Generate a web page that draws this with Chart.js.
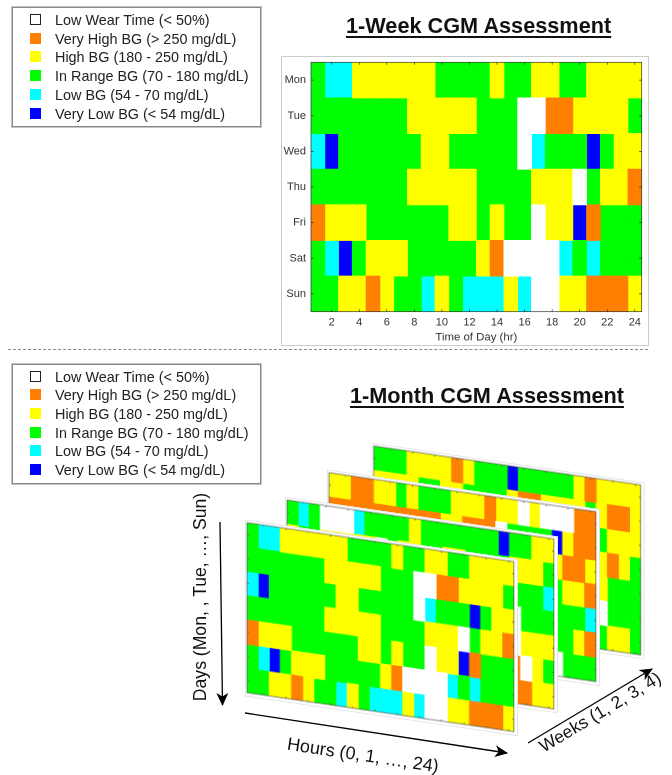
<!DOCTYPE html>
<html>
<head>
<meta charset="utf-8">
<title>CGM Assessment</title>
<script src="https://cdn.jsdelivr.net/npm/chart.js@4"></script>
<style>
  html, body { margin: 0; padding: 0; background: #fff; }
  #page { position: relative; width: 672px; height: 775px; overflow: hidden; font-family: "Liberation Sans", Arial, sans-serif; color: #222; filter: blur(0.35px); }
  #page canvas { position: absolute; background: #fff; }
  .title { position: absolute; font-weight: bold; font-size: 21.7px; line-height: 26px; text-decoration: underline; text-decoration-thickness: 2px; text-underline-offset: 3px; white-space: nowrap; color: #111; }
  .legend { position: absolute; left: 12px; width: 247px; height: 118px; border: 1px solid #888; box-shadow: 0 0 0 1px #c4c4c4; background: #fff; }
  .legend div { position: absolute; left: 42px; font-size: 14.4px; line-height: 18px; white-space: nowrap; }
  .legend span { position: absolute; left: -25px; top: 3px; width: 11px; height: 11px; box-sizing: border-box; }
  #sep { position: absolute; left: 8px; top: 349px; width: 640px; border-top: 1px dashed #888; }
  #arrows { position: absolute; left: 0; top: 0; }
  .axisText { position: absolute; font-size: 17.6px; line-height: 20px; white-space: nowrap; color: #111; transform-origin: center center; }
  #weekFrame { position: absolute; left: 282px; top: 57px; width: 366px; height: 288px; box-sizing: border-box; box-shadow: 0 0 0 1px #ccc; }
</style>
</head>
<body>
<div id="page">
  <div class="title" style="left:346px; top:13px;">1-Week CGM Assessment</div>
  <div class="title" style="left:350px; top:383px;">1-Month CGM Assessment</div>
  <div class="legend" id="legendWeek" style="top:7px;"></div>
  <div class="legend" id="legendMonth" style="top:363.5px;"></div>
  <div id="sep"></div>
  <div id="weekFrame"></div>
  <canvas id="weekChart" style="left:282px; top:57px;" width="366" height="288"></canvas>
  <canvas id="month4"></canvas>
  <canvas id="month3"></canvas>
  <canvas id="month2"></canvas>
  <canvas id="month1"></canvas>
  <svg id="arrows" width="672" height="775">
    <defs>
      <marker id="head" markerWidth="14" markerHeight="14" refX="12" refY="6" orient="auto" markerUnits="userSpaceOnUse">
        <path d="M0,0 L13,6 L0,12 L3.5,6 Z" fill="#000"></path>
      </marker>
    </defs>
    <line x1="220" y1="522" x2="222.5" y2="705" stroke="#000" stroke-width="1.3" marker-end="url(#head)"></line>
    <line x1="245" y1="713" x2="507" y2="753" stroke="#000" stroke-width="1.3" marker-end="url(#head)"></line>
    <line x1="528" y1="743" x2="652" y2="669" stroke="#000" stroke-width="1.3" marker-end="url(#head)"></line>
  </svg>
  <div class="axisText" style="left:90px; top:587px; width:220px; text-align:center; transform:rotate(-90deg);">Days (Mon, , Tue, …, Sun)</div>
  <div class="axisText" style="left:268px; top:745px; width:190px; text-align:center; transform:rotate(8.5deg); font-size:18px;">Hours (0, 1, …, 24)</div>
  <div class="axisText" style="left:520px; top:702px; width:160px; text-align:center; transform:rotate(-31deg);">Weeks (1, 2, 3, 4)</div>
</div>

<script>
const days = ['Mon', 'Tue', 'Wed', 'Thu', 'Fri', 'Sat', 'Sun'];
const hourTicks = [2, 4, 6, 8, 10, 12, 14, 16, 18, 20, 22, 24];

const statusCodes = ['W', 'O', 'Y', 'G', 'C', 'B'];
const statusLabels = [
  'Low Wear Time (< 50%)',
  'Very High BG (> 250 mg/dL)',
  'High BG (180 - 250 mg/dL)',
  'In Range BG (70 - 180 mg/dL)',
  'Low BG (54 - 70 mg/dL)',
  'Very Low BG (< 54 mg/dL)'
];

// one string per day, one letter per hour (status code above)
const week1 = [
  'GCCYYYYYYGGGGYGGYYGGYYYY',
  'GGGGGGGYYYYYGGGWWOOYYYYG',
  'CBGGGGGGYYGGGGGWCGGGBGYY',
  'GGGGGGGYYYYYGGGGYYYWGYYO',
  'OYYYGGGGGGYYGYGGWYYBOGGG',
  'GCBGYYYGGGGGYOWWWWCGCGGG',
  'GGYYOYGGCYGCCCYCWWYYOOOY'
];
// weeks 2-4 are mostly hidden behind the front panel, hidden cells are estimates
const week2 = [
  'GCGWWWCGGGGYGGGGGGGBGGYY',
  'YGGYYYYYWGYYGGYYGGGGYYYG',
  'GGGGYYGGGGGGGGYYGGGGGGGC',
  'YYGGGGGGGGYYYGGGGGGGWGGG',
  'GGGGGGYYYGGGGGGGYYGGWYYY',
  'GGGYYYGGGGGGGOWWWGGGOWYG',
  'GGYYGGGCGGGYYGGGGWWYOOYY'
];
const week3 = [
  'YYOOYYGYGGGYYYOYYWYWWWOO',
  'OOOOOOOOOOYYOOOWGGGGBYOO',
  'GGGGGGGGYYYYGGGGGGGGYOOY',
  'GGYYGGGGGGYYGGGGYYGGGYYO',
  'GGGGGGGGGGGGGGGGGGYYGGGC',
  'YYGGGGGGGGGGGGWWGGGGGGYO',
  'GGGGGYYGGGGGGGWWGGGGWGGG'
];
const week4 = [
  'GGGYYYYOYGGGBGGGGGYOYYYY',
  'YYYYGGYYGGGGYOOYYYYGYOOY',
  'GGGGYYYYGGGGGGGGGGGGGYYY',
  'GGGGYYGGGGGGGGYYGGGGYOYG',
  'YYGGGGGGGGGGGGGGGYYYYGGG',
  'GGGGGGGYYYGGGGGGGGGGWGGG',
  'GGGYYGGGGGGGCGGGGWWGGYYG'
];

const statusColors = ['#ffffff', '#ff8000', '#ffff00', '#00ff00', '#00ffff', '#0000ff'];
const SHEAR = 0.146;

function gridDatasets(rows) {
  return statusCodes.map((code, s) => {
    const data = [];
    rows.forEach((row, d) => {
      row.split('').forEach((c, h) => {
        if (c === code) data.push({ x: [h + 0.5, h + 1.5], y: days[d] });
      });
    });
    return {
      label: statusLabels[s],
      data: data,
      backgroundColor: statusColors[s],
      grouped: false,
      barPercentage: 1,
      categoryPercentage: 1,
      inflateAmount: 0.4
    };
  });
}

// Box and inward ticks on all four sides, MATLAB style
const framePlugin = {
  id: 'frame',
  afterDatasetsDraw(chart, args, opts) {
    const { ctx, chartArea: a, scales } = chart;
    const len = opts.tick;
    ctx.save();
    ctx.strokeStyle = opts.color;
    ctx.lineWidth = opts.width;
    ctx.strokeRect(a.left, a.top, a.right - a.left, a.bottom - a.top);
    ctx.beginPath();
    scales.x.ticks.forEach((t, i) => {
      const px = scales.x.getPixelForTick(i);
      ctx.moveTo(px, a.top); ctx.lineTo(px, a.top + len);
      ctx.moveTo(px, a.bottom); ctx.lineTo(px, a.bottom - len);
    });
    scales.y.ticks.forEach((t, i) => {
      const py = scales.y.getPixelForTick(i);
      ctx.moveTo(a.left, py); ctx.lineTo(a.left + len, py);
      ctx.moveTo(a.right, py); ctx.lineTo(a.right - len, py);
    });
    ctx.stroke();
    ctx.restore();
  }
};

function hourAxis(extra) {
  return Object.assign({
    type: 'linear',
    min: 0.5,
    max: 24.5,
    grid: { display: false },
    border: { display: false },
    afterBuildTicks: scale => { scale.ticks = hourTicks.map(v => ({ value: v })); }
  }, extra);
}

function dayAxis(extra) {
  return Object.assign({
    type: 'category',
    labels: days,
    grid: { display: false },
    border: { display: false }
  }, extra);
}

// top chart
new Chart(document.getElementById('weekChart'), {
  type: 'bar',
  data: { labels: days, datasets: gridDatasets(week1) },
  plugins: [framePlugin],
  options: {
    indexAxis: 'y',
    responsive: false,
    animation: false,
    devicePixelRatio: 2,
    layout: { padding: { left: 0, right: 6.3, top: 5.3, bottom: 0 } },
    plugins: {
      legend: { display: false },
      tooltip: { enabled: false },
      frame: { color: '#333', width: 0.7, tick: 2.5 }
    },
    scales: {
      x: hourAxis({
        afterFit: s => { s.height = 33.3; },
        grid: { display: false, drawTicks: false },
        ticks: { color: '#333', font: { family: 'Liberation Sans', size: 11 }, padding: 4, maxRotation: 0, autoSkip: false },
        title: { display: true, text: 'Time of Day (hr)', color: '#333', font: { family: 'Liberation Sans', size: 11.4 }, padding: { top: 0, bottom: 1 } }
      }),
      y: dayAxis({
        // drop the half-label padding so the plot keeps its top edge
        afterFit: s => { s.width = 29; s.paddingTop = 0; s.paddingBottom = 0; },
        grid: { display: false, drawTicks: false },
        ticks: { color: '#333', font: { family: 'Liberation Sans', size: 11 }, padding: 5 }
      })
    }
  }
});

// month panels, same chart sheared with a css matrix
function monthPanel(id, rows, x, y) {
  const canvas = document.getElementById(id);
  const pad = { left: 2, top: 3, right: 4, bottom: 4 };
  canvas.style.width = (267 + pad.left + pad.right) + 'px';
  canvas.style.height = (170 + pad.top + pad.bottom) + 'px';
  canvas.width = 267 + pad.left + pad.right;
  canvas.height = 170 + pad.top + pad.bottom;
  canvas.style.left = '0';
  canvas.style.top = '0';
  canvas.style.transformOrigin = '0 0';
  const tx = x - pad.left;
  const ty = y - pad.top - SHEAR * pad.left;
  canvas.style.transform = `matrix(1, ${SHEAR}, 0, 1, ${tx}, ${ty})`;
  canvas.style.outline = '1px solid #e6e6e6';
  canvas.style.outlineOffset = '-1px';
  new Chart(canvas, {
    type: 'bar',
    data: { labels: days, datasets: gridDatasets(rows) },
    plugins: [framePlugin],
    options: {
      indexAxis: 'y',
      responsive: false,
      animation: false,
      devicePixelRatio: 2,
      layout: { padding: pad },
      plugins: {
        legend: { display: false },
        tooltip: { enabled: false },
        frame: { color: '#555', width: 0.7, tick: 2 }
      },
      scales: {
        x: hourAxis({ display: false }),
        y: dayAxis({ display: false })
      }
    }
  });
}

monthPanel('month4', week4, 373.7, 446);
monthPanel('month3', week3, 329, 472.7);
monthPanel('month2', week2, 287, 500);
monthPanel('month1', week1, 247, 522.7);

// legends
function fillLegend(id) {
  const box = document.getElementById(id);
  statusLabels.forEach((label, i) => {
    const row = document.createElement('div');
    row.style.top = (3 + i * 18.7) + 'px';
    const mark = document.createElement('span');
    mark.style.background = statusColors[i];
    if (i === 0) mark.style.border = '1.5px solid #222';
    row.appendChild(mark);
    row.appendChild(document.createTextNode(label));
    box.appendChild(row);
  });
}
fillLegend('legendWeek');
fillLegend('legendMonth');
</script>
</body>
</html>
